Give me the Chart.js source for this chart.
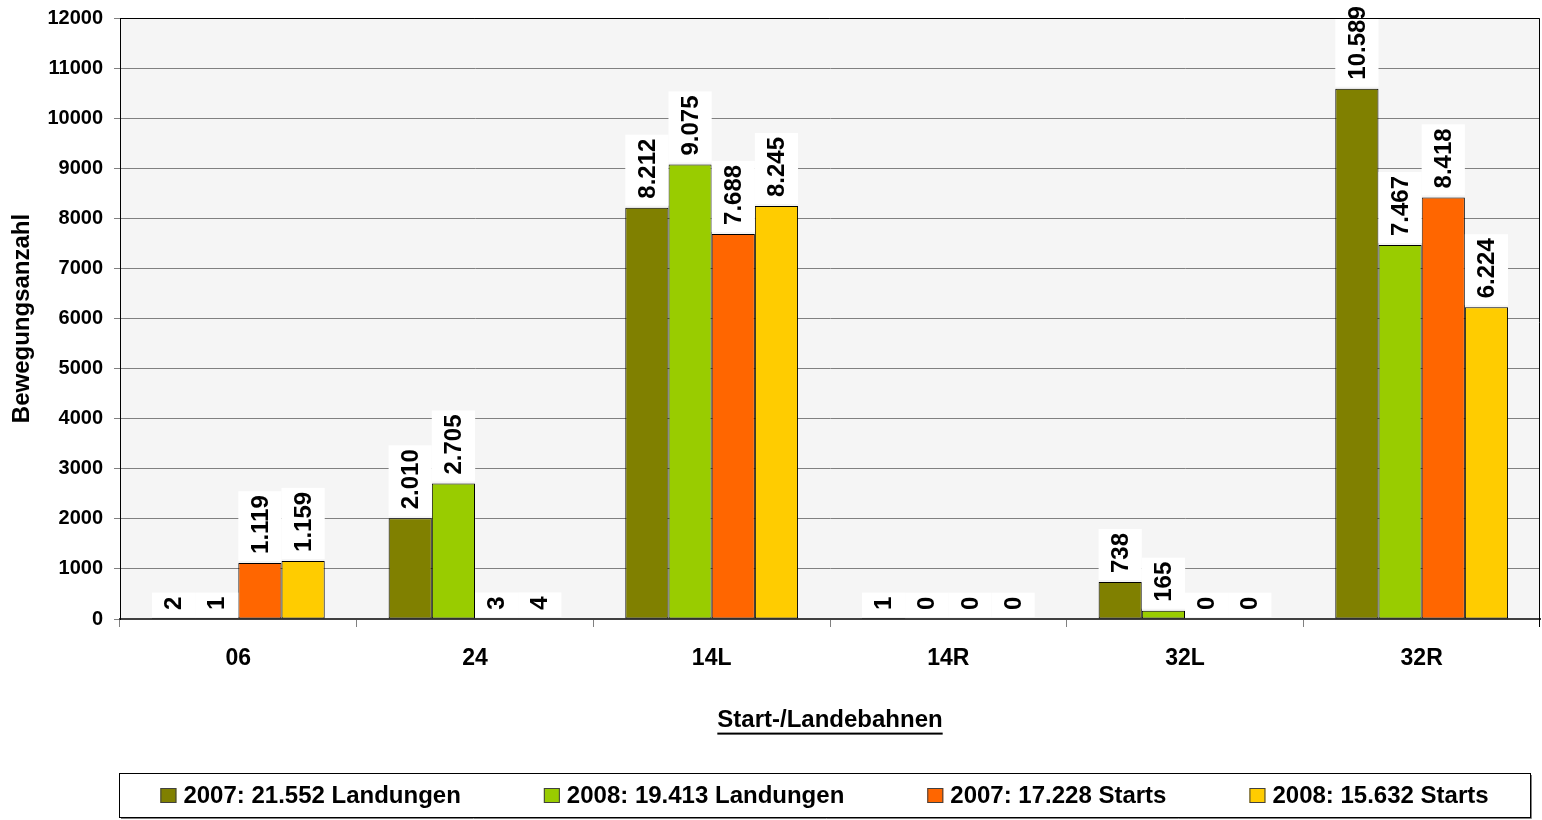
<!DOCTYPE html>
<html>
<head>
<meta charset="utf-8">
<title>Start-/Landebahnen</title>
<script src="https://cdn.jsdelivr.net/npm/chart.js@4"></script>
<style>
html, body { margin: 0; padding: 0; background: #fff; }
#wrap { width: 1542px; height: 820px; }
</style>
</head>
<body>
<div id="wrap"><canvas id="bahnenChart" width="1542" height="820"></canvas></div>
<script>
var runways = ['06', '24', '14L', '14R', '32L', '32R'];
var landungen2007 = [2, 2010, 8212, 1, 738, 10589];
var landungen2008 = [1, 2705, 9075, 0, 165, 7467];
var starts2007 = [1119, 3, 7688, 0, 0, 8418];
var starts2008 = [1159, 4, 8245, 0, 0, 6224];
var seriesNames = ['2007: 21.552 Landungen', '2008: 19.413 Landungen', '2007: 17.228 Starts', '2008: 15.632 Starts'];
var seriesColors = ['#808000', '#99CC00', '#FF6600', '#FFCC00'];
var yMin = 0, yMax = 12000, yStep = 1000;

var FONT = 'Arial, "Liberation Sans", Helvetica, sans-serif';

function fmt(v) {
    return String(v).replace(/\B(?=(\d{3})+(?!\d))/g, '.');
}

var plotBackground = {
    id: 'plotBackground',
    beforeDraw: function (chart) {
        var a = chart.chartArea, ctx = chart.ctx;
        ctx.save();
        ctx.fillStyle = '#F5F5F5';
        ctx.fillRect(a.left, a.top, a.right - a.left, a.bottom - a.top);
        ctx.restore();
    },
    afterDraw: function (chart) {
        var a = chart.chartArea, ctx = chart.ctx;
        ctx.save();
        ctx.strokeStyle = '#000';
        ctx.lineWidth = 1;
        ctx.beginPath();
        ctx.moveTo(a.left, a.top + 0.5);
        ctx.lineTo(a.right - 0.5, a.top + 0.5);
        ctx.lineTo(a.right - 0.5, a.bottom + 8);
        ctx.stroke();
        ctx.restore();
    }
};

var valueLabels = {
    id: 'valueLabels',
    afterDatasetsDraw: function (chart) {
        var ctx = chart.ctx;
        ctx.save();
        ctx.font = 'bold 24px ' + FONT;
        chart.data.datasets.forEach(function (ds, i) {
            var meta = chart.getDatasetMeta(i);
            meta.data.forEach(function (bar, j) {
                var p = bar.getProps(['x', 'y', 'width'], true);
                var txt = fmt(ds.data[j]);
                var w = ctx.measureText(txt).width;
                var boxBottom = p.y - 2;
                var boxH = w + 11;
                ctx.fillStyle = '#fff';
                ctx.fillRect(p.x - p.width / 2, boxBottom - boxH, p.width, boxH);
                ctx.save();
                ctx.translate(p.x + 1, boxBottom - 7);
                ctx.rotate(-Math.PI / 2);
                ctx.fillStyle = '#000';
                ctx.textAlign = 'left';
                ctx.textBaseline = 'middle';
                ctx.fillText(txt, 0, 0);
                ctx.restore();
            });
        });
        ctx.restore();
    }
};

var boxLegend = {
    id: 'boxLegend',
    afterDraw: function (chart) {
        var ctx = chart.ctx;
        var fl = 119, fr = 1530, ft = 773, fb = 817;
        ctx.save();
        // frame with slight shadow
        ctx.strokeStyle = '#808080';
        ctx.lineWidth = 1;
        ctx.beginPath();
        ctx.moveTo(fl + 2, fb + 1.5);
        ctx.lineTo(fr + 1.5, fb + 1.5);
        ctx.lineTo(fr + 1.5, ft + 2);
        ctx.stroke();
        ctx.strokeStyle = '#000';
        ctx.strokeRect(fl + 0.5, ft + 0.5, fr - fl, fb - ft);

        ctx.font = 'bold 24px ' + FONT;
        var box = 16, gapText = 7, gapItem = 83;
        var widths = chart.data.datasets.map(function (ds) {
            return box + gapText + ctx.measureText(ds.label).width;
        });
        var total = widths.reduce(function (s, w) { return s + w; }, 0) + gapItem * (widths.length - 1);
        var x = (fl + fr) / 2 - total / 2;
        var cy = (ft + fb) / 2 + 1;
        chart.data.datasets.forEach(function (ds, i) {
            ctx.fillStyle = ds.backgroundColor;
            ctx.fillRect(x, cy - 8, box, 15);
            ctx.strokeStyle = '#404040';
            ctx.strokeRect(x + 0.5, cy - 7.5, box - 1, 14);
            ctx.fillStyle = '#000';
            ctx.textAlign = 'left';
            ctx.textBaseline = 'middle';
            ctx.fillText(ds.label, x + box + gapText, cy);
            x += widths[i] + gapItem;
        });
        ctx.restore();
    }
};

var titleUnderline = {
    id: 'titleUnderline',
    afterDraw: function (chart) {
        var sc = chart.scales.x, ctx = chart.ctx;
        var t = sc.options.title;
        var size = t.font.size, lh = size * 1.2;
        var cy = sc.bottom - t.padding.bottom - lh / 2;
        ctx.save();
        ctx.font = 'bold ' + size + 'px ' + FONT;
        var w = ctx.measureText(t.text).width;
        var cx = (sc.left + sc.right) / 2;
        ctx.fillStyle = '#000';
        ctx.fillRect(cx - w / 2, cy + size * 0.5, w, 2);
        ctx.restore();
    }
};

var datasets = [landungen2007, landungen2008, starts2007, starts2008].map(function (d, i) {
    return {
        label: seriesNames[i],
        data: d,
        backgroundColor: seriesColors[i],
        borderColor: '#000',
        borderWidth: 1,
        borderSkipped: false,
        categoryPercentage: 0.73,
        barPercentage: 1.0
    };
});

var ctx = document.getElementById('bahnenChart');

var bahnenChart = new Chart(ctx, {
    type: 'bar',
    data: {
        labels: runways,
        datasets: datasets
    },
    options: {
        responsive: false,
        animation: false,
        devicePixelRatio: 1,
        layout: {
            padding: { left: 0, right: 2, top: 18, bottom: 60 }
        },
        plugins: {
            legend: { display: false },
            tooltip: { enabled: false }
        },
        scales: {
            x: {
                offset: true,
                afterFit: function (s) {
                    s.height = 141;
                    s.paddingLeft = 0;
                    s.paddingRight = 0;
                },
                grid: {
                    display: true,
                    drawOnChartArea: false,
                    offset: true,
                    tickLength: 8,
                    color: '#808080'
                },
                border: { color: '#404040', width: 2 },
                ticks: {
                    color: '#000',
                    padding: 18,
                    font: { family: FONT, size: 23, weight: 'bold' }
                },
                title: {
                    display: true,
                    text: 'Start-/Landebahnen',
                    color: '#000',
                    padding: { top: 0, bottom: 25 },
                    font: { family: FONT, size: 24, weight: 'bold' }
                }
            },
            y: {
                min: yMin,
                max: yMax,
                afterFit: function (s) {
                    s.width = 120;
                    s.paddingTop = 0;
                    s.paddingBottom = 0;
                },
                grid: {
                    color: '#808080',
                    tickLength: 6,
                    lineWidth: 1
                },
                border: { color: '#000', width: 1 },
                ticks: {
                    stepSize: yStep,
                    color: '#000',
                    padding: 11,
                    font: { family: FONT, size: 20, weight: 'bold' },
                    callback: function (v) { return v; }
                },
                title: {
                    display: true,
                    text: 'Bewegungsanzahl',
                    color: '#000',
                    padding: { top: 8, bottom: 0 },
                    font: { family: FONT, size: 24, weight: 'bold' }
                }
            }
        }
    },
    plugins: [plotBackground, valueLabels, boxLegend, titleUnderline]
});
</script>
</body>
</html>
